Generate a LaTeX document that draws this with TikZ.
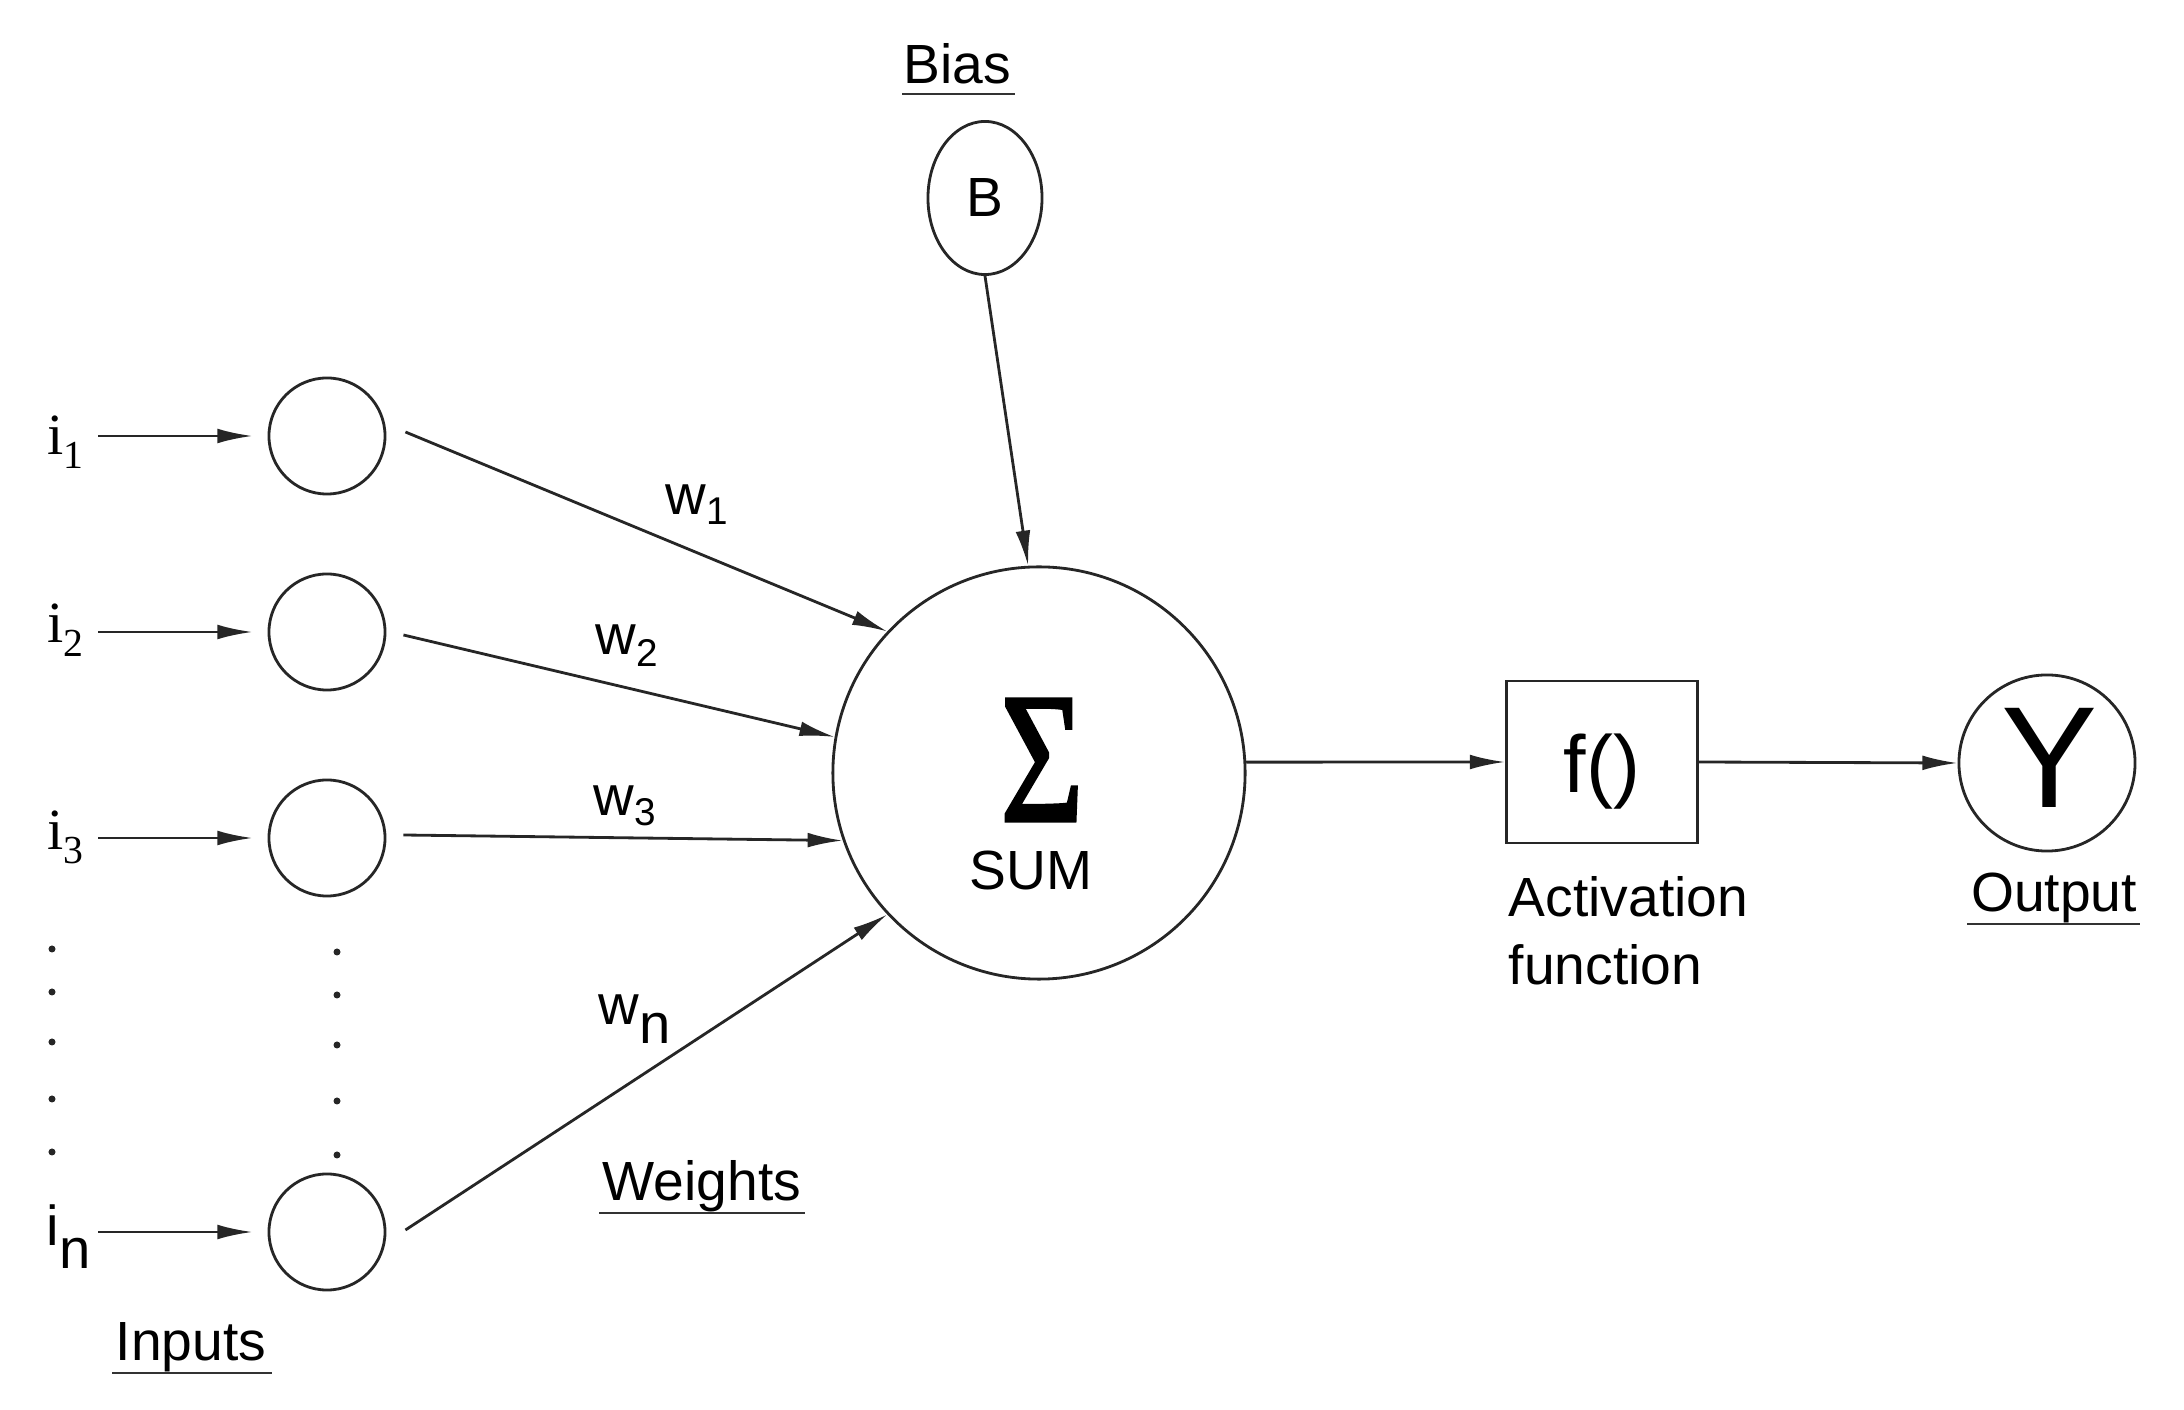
\documentclass[tikz,border=0pt]{standalone}
\usepackage{fontspec}
\usepackage{graphicx}
\setmainfont{Liberation Sans}
\newfontfamily\serifnum{Liberation Serif}
\newfontfamily\sigfont[FakeBold=1.8]{Liberation Serif}
\usetikzlibrary{shapes.geometric,arrows.meta}
\newcommand\isub[2]{{\serifnum\fontsize{16.6}{18}\selectfont #1\raisebox{-3.7pt}{\fontsize{11.3}{12}\selectfont #2}}}
\newcommand\wsub[3]{{\fontsize{16}{18}\selectfont w\raisebox{-#3}{\fontsize{#2}{12}\selectfont #1}}}
\begin{document}
\begin{tikzpicture}[x=0.01cm,y=-0.01cm,
  ln/.style={draw=black!85, line width=0.8pt},
  arr/.style={ln, -{Latex[length=10pt,width=4.2pt]}},
  neur/.style={circle, ln, minimum size=1.16cm, inner sep=0pt},
  txt/.style={font=\fontsize{15.7}{19}\selectfont, inner sep=0pt},
  uline/.style={draw=black!80, line width=0.7pt},
  lbl/.style={inner sep=0pt}]
\useasboundingbox (0,0) rectangle (2184,1410);

% input neurons
\node[neur] (in1) at (327,436) {};
\node[neur] (in2) at (327,632) {};
\node[neur] (in3) at (327,838) {};
\node[neur] (inn) at (327,1232) {};

% input labels
\node[lbl, anchor=base west] (li1) at (47,455) {\isub{i}{1}};
\node[lbl, anchor=base west] (li2) at (47,643) {\isub{i}{2}};
\node[lbl, anchor=base west] (li3) at (47,850) {\isub{i}{3}};
\node[lbl, anchor=base west, font=\fontsize{16}{18}\selectfont] (lin) at (46,1246) {i\raisebox{-6.3pt}{n}};

\coordinate (s1) at (98,436);
\coordinate (s2) at (98,632);
\coordinate (s3) at (98,838);
\coordinate (sn) at (98,1232);
\draw[arr] (s1) -- ([xshift=-0.15cm]in1.west);
\draw[arr] (s2) -- ([xshift=-0.15cm]in2.west);
\draw[arr] (s3) -- ([xshift=-0.15cm]in3.west);
\draw[arr] (sn) -- ([xshift=-0.15cm]inn.west);

% dots
\foreach \yy in {949,992,1042,1099,1152} {\fill[black!85] (52,\yy) circle[radius=0.035cm];}
\foreach \yy in {952,995,1045,1101,1155} {\fill[black!85] (337,\yy) circle[radius=0.035cm];}

% bias
\node[txt, anchor=base] (bias) at (957,84) {Bias};
\draw[uline] (902,94) -- (1015,94);
\node[ellipse, ln, minimum width=1.14cm, minimum height=1.53cm, inner sep=0pt,
      font=\fontsize{15.7}{19}\selectfont] (bnode) at (985,198) {B};

% sum
\node[circle, ln, minimum size=4.12cm, inner sep=0pt] (sum) at (1039,773) {};
\node[lbl, anchor=base] (sig) at (1042,821) {\sigfont\fontsize{53}{53}\selectfont\scalebox{0.77}[1]{Σ}};
\node[txt, anchor=base] (sumlbl) at (1031,890) {SUM};

% weights
\draw[arr] ([shift={(19,-4)}]in1.east) -- (sum.137.5);
\draw[arr] ([shift={(17,3)}]in2.east) -- (sum.170);
\draw[arr] ([shift={(17,-3)}]in3.east) -- (sum.199);
\draw[arr] ([shift={(19,-2)}]inn.east) -- (sum.223);
\draw[arr] (bnode.south) -- (sum.93.3);

\node[lbl, anchor=base west] (w1) at (665,515) {\wsub{1}{11}{2.8pt}};
\node[lbl, anchor=base west] (w2) at (595,655) {\wsub{2}{11}{3.4pt}};
\node[lbl, anchor=base west] (w3) at (593,816) {\wsub{3}{11}{2.8pt}};
\node[lbl, anchor=base west] (wn) at (598,1025) {\wsub{n}{16}{5.4pt}};

\node[txt, anchor=base] (wts) at (702,1201) {Weights};
\draw[uline] (599,1213) -- (805,1213);

\node[txt, anchor=base] (inp) at (191,1361) {Inputs};
\draw[uline] (112,1373) -- (272,1373);

% activation
\node[rectangle, ln, minimum width=1.91cm, minimum height=1.62cm, inner sep=0pt] (act) at (1602,762) {};
\node[lbl, anchor=base, font=\fontsize{23}{23}\selectfont] (fx) at (1602,793) {f()};
\node[txt, anchor=base west] (act1) at (1508,917) {Activation};
\node[txt, anchor=base west] (act2) at (1508,985) {function};

% output
\node[circle, ln, minimum size=1.76cm, inner sep=0pt] (out) at (2047,763) {};
\node[lbl, anchor=base, font=\fontsize{41}{41}\selectfont] (ylbl) at (2050,808) {Y};
\node[txt, anchor=base] (outlbl) at (2054,912) {Output};
\draw[uline] (1967,924) -- (2140,924);

\draw[arr] (sum.3) -- (act.west);
\draw[arr] (act.east) -- (out.west);
\end{tikzpicture}
\end{document}
